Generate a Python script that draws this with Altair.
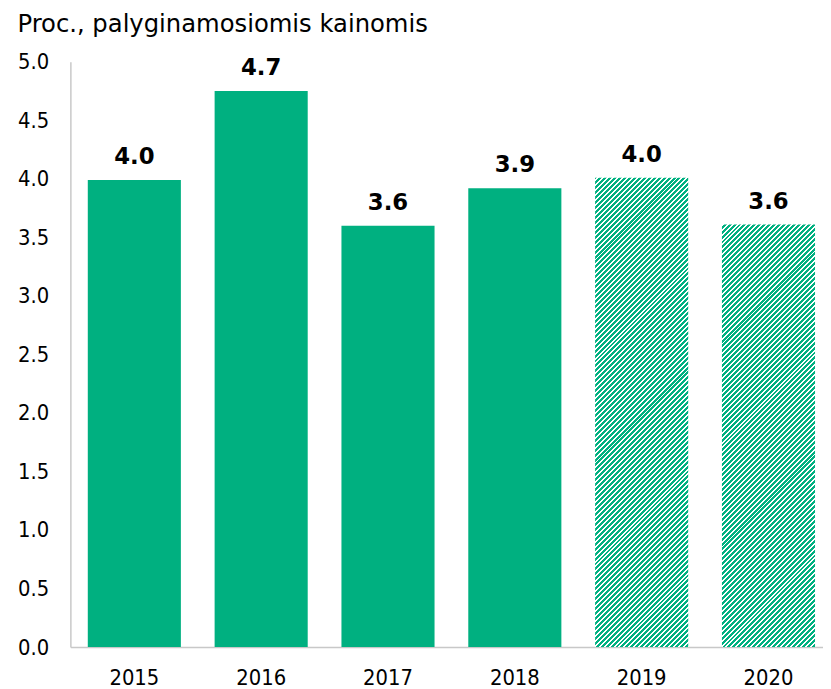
import altair as alt
import pandas as pd

# ---- data ----
years = ["2015", "2016", "2017", "2018", "2019", "2020"]
values = [3.99, 4.75, 3.60, 3.92, 4.01, 3.61]
labels = ["4.0", "4.7", "3.6", "3.9", "4.0", "3.6"]
forecast = [False, False, False, False, True, True]
y_ticks = [0.0, 0.5, 1.0, 1.5, 2.0, 2.5, 3.0, 3.5, 4.0, 4.5, 5.0]
title_text = "Proc., palyginamosiomis kainomis"

# ---- styling ----
GREEN = "#00b080"
W, H = 760, 591
YMAX = 5.0
P_IN, P_OUT, ALIGN = 0.266, 0.1, 0.686
PERIOD = 5.0      # hatch period in pixels (measured along x + y)
GREEN_W = 3.0     # green part of each period
L_REF = 255.0     # gradient length (x + y pixels) mapped onto t = 0..1
OVERLAP = 1.0     # slices overlap slightly to avoid seams
FONT = "DejaVu Sans Condensed"

df = pd.DataFrame({"year": years, "value": values, "label": labels, "forecast": forecast})

step = W / (len(years) - P_IN + 2 * P_OUT)
bw = step * (1 - P_IN)
px_per_unit = H / YMAX
SEG = L_REF - bw - OVERLAP - 2.0


def slice_gradient(w, h, phase):
    """Hard-stop linear gradient: green where (x + y + phase) mod PERIOD < GREEN_W,
    with t = (x + y) / L_REF in the slice's own pixel box."""
    s = L_REF / (w * w + h * h)
    stops = []
    m = -1
    while m * PERIOD - phase < L_REF:
        g0 = m * PERIOD - phase
        g1 = g0 + GREEN_W
        g2 = g0 + PERIOD
        for a, b, col in ((g0, g1, GREEN), (g1, g2, "#ffffff")):
            a2, b2 = max(a, 0.0), min(b, L_REF)
            if b2 > a2:
                stops.append({"offset": a2 / L_REF, "color": col})
                stops.append({"offset": b2 / L_REF, "color": col})
        m += 1
    return {"gradient": "linear", "x1": 0, "y1": 0, "x2": w * s, "y2": h * s, "stops": stops}


rows = []
for yr, v, f in zip(years, values, forecast):
    if not f:
        continue
    h_total = v * px_per_unit
    bottom = 0.0
    while bottom < h_total - 1e-6:
        top_nom = min(bottom + SEG, h_total)
        top = min(top_nom + OVERLAP, h_total)
        phase = (-top) % PERIOD
        rows.append({
            "year": yr,
            "y0": bottom / px_per_unit,
            "y1": top / px_per_unit,
            "grad": slice_gradient(bw, top - bottom, phase),
        })
        bottom = top_nom
hatch_df = pd.DataFrame(rows)

x_enc = alt.X(
    "year:N",
    sort=years,
    scale=alt.Scale(domain=years, paddingInner=P_IN, paddingOuter=P_OUT, align=ALIGN),
    axis=alt.Axis(title=None, labelAngle=0, ticks=False, labelPadding=21,
                  labelFont=FONT, labelFontSize=22, labelColor="#000000",
                  domainColor="#c8c8c8", domainWidth=1.5),
)
y_scale = alt.Scale(domain=[0, YMAX], nice=False, zero=True)
y_axis = alt.Axis(title=None, values=y_ticks, format=".1f", grid=False, ticks=False,
                  labelPadding=22, labelFont=FONT, labelFontSize=22, labelColor="#000000",
                  domainColor="#c8c8c8", domainWidth=1.5)
y_enc = alt.Y("value:Q", scale=y_scale, axis=y_axis)

base = alt.Chart(df)

solid = base.mark_bar(color=GREEN).encode(x=x_enc, y=y_enc).transform_filter("!datum.forecast")

hatched = alt.Chart(hatch_df).mark_bar(strokeWidth=0).encode(
    x=x_enc,
    y=alt.Y("y0:Q", scale=y_scale, axis=y_axis),
    y2="y1:Q",
    fill=alt.Fill("grad:N", scale=None, legend=None),
)

text = base.mark_text(
    dy=-16, baseline="alphabetic", font="DejaVu Sans", fontWeight="bold", fontSize=23, color="#000000"
).encode(x=x_enc, y=y_enc, text="label:N")

chart = (
    alt.layer(solid, hatched, text)
    .properties(
        width=W,
        height=H,
        padding={"left": 9, "top": 0, "right": 0, "bottom": 0},
        title=alt.TitleParams(title_text, anchor="start", frame="bounds", font="DejaVu Sans",
                              fontSize=24.5, fontWeight="normal", color="#000000", offset=14),
    )
    .configure_view(stroke=None)
)

chart.save("out.html", embed_options={"renderer": "svg", "actions": False})
